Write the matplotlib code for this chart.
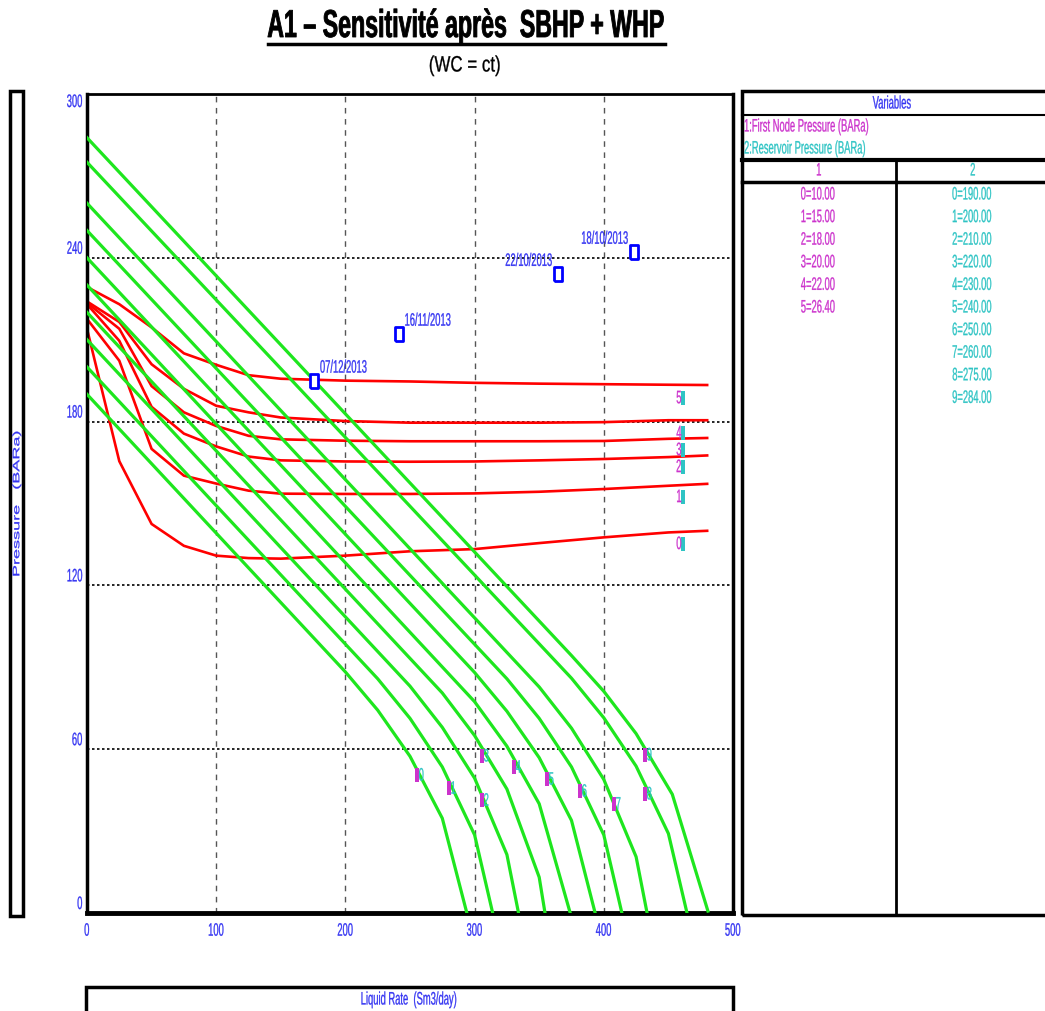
import matplotlib
matplotlib.use("Agg")
import matplotlib.pyplot as plt
from matplotlib.patches import Rectangle
from matplotlib.lines import Line2D
from matplotlib.patheffects import AbstractPathEffect
from matplotlib.transforms import Affine2D

# --- data ------------------------------------------------------------------

# sensitivity variables
FNP_VALUES = ["0=10.00", "1=15.00", "2=18.00", "3=20.00", "4=22.00", "5=26.40"]
PRES_VALUES = ["0=190.00", "1=200.00", "2=210.00", "3=220.00", "4=230.00",
               "5=240.00", "6=250.00", "7=260.00", "8=275.00", "9=284.00"]

# VLP curves (first node pressure), pressure at each liquid rate
VLP_Q = [0, 25, 50, 75, 100, 125, 150, 200, 250, 300, 350, 400, 450, 480]
vlp_p0 = [214.0, 165.5, 142.5, 134.5, 130.9, 130.0, 129.8, 130.9, 132.5, 133.3, 135.5, 137.6, 139.4, 140.0]
vlp_p1 = [217.6, 202.3, 170.0, 160.2, 157.3, 154.7, 153.6, 153.5, 153.5, 153.7, 154.3, 155.3, 156.5, 157.2]
vlp_p2 = [223.0, 209.6, 185.4, 175.6, 170.9, 167.2, 165.8, 165.4, 165.3, 165.4, 165.8, 166.3, 167.0, 167.6]
vlp_p3 = [223.5, 214.0, 193.0, 183.4, 178.4, 174.8, 173.5, 173.0, 172.8, 172.8, 172.8, 172.9, 173.7, 174.0]
vlp_p4 = [224.0, 216.5, 201.0, 192.0, 185.8, 183.4, 181.5, 180.2, 179.6, 179.6, 179.6, 179.8, 180.5, 180.5]
vlp_p5 = [229.3, 223.0, 214.5, 205.0, 200.8, 197.0, 195.7, 195.0, 194.7, 194.2, 193.9, 193.7, 193.5, 193.4]
VLP_P = [vlp_p0, vlp_p1, vlp_p2, vlp_p3, vlp_p4, vlp_p5]

# IPR curves (reservoir pressure)
ipr_q0 = [0, 200, 225, 250, 275, 294]
ipr_p0 = [190, 88.3, 74.3, 57.4, 34.7, 0]
ipr_q1 = [0, 225, 250, 275, 300, 314]
ipr_p1 = [200, 85.8, 71.3, 53.5, 28.6, 0]
ipr_q2 = [0, 250, 275, 300, 325, 334]
ipr_p2 = [210, 83.1, 68.0, 49.4, 21.4, 0]
ipr_q3 = [0, 275, 300, 325, 350, 354.5]
ipr_p3 = [220, 80.6, 65.0, 45.4, 13.1, 0]
ipr_q4 = [0, 300, 325, 350, 374]
ipr_p4 = [230, 77.4, 61.1, 40.0, 0]
ipr_q5 = [0, 300, 325, 350, 375, 393.3]
ipr_p5 = [240, 88.1, 73.9, 56.9, 33.9, 0]
ipr_q6 = [0, 325, 350, 375, 400, 414]
ipr_p6 = [250, 85.8, 71.3, 53.5, 28.6, 0]
ipr_q7 = [0, 350, 375, 400, 425, 433.5]
ipr_p7 = [260, 82.8, 67.7, 48.9, 20.6, 0]
ipr_q8 = [0, 375, 400, 425, 450, 464.4]
ipr_p8 = [275, 86.0, 71.5, 53.8, 29.1, 0]
ipr_q9 = [0, 375, 400, 425, 453, 480.6]
ipr_p9 = [284, 94.3, 81.2, 65.7, 43.5, 0.7]
IPR_Q = [ipr_q0, ipr_q1, ipr_q2, ipr_q3, ipr_q4, ipr_q5, ipr_q6, ipr_q7, ipr_q8, ipr_q9]
IPR_P = [ipr_p0, ipr_p1, ipr_p2, ipr_p3, ipr_p4, ipr_p5, ipr_p6, ipr_p7, ipr_p8, ipr_p9]

# curve tags
IPR_TAG_Q = [255.4, 280.2, 305.7, 305.7, 330.5, 356.0, 381.6, 407.9, 431.9, 431.9]
IPR_TAG_P = [50.5, 45.7, 41.3, 57.5, 53.4, 49.0, 44.6, 39.9, 43.6, 57.9]
VLP_TAG_Q = 461.6
VLP_TAG_P = [135.3, 152.5, 163.5, 169.7, 175.9, 188.7]

# well tests
TEST_DATES = ["07/12/2013", "16/11/2013", "22/10/2013", "18/10/2013"]
TEST_Q = [176.0, 241.5, 364.6, 423.4]
TEST_P = [195.0, 212.2, 234.1, 242.2]

X_TICKS = [0, 100, 200, 300, 400, 500]
Y_TICKS = [0, 60, 120, 180, 240, 300]

# --- styling ---------------------------------------------------------------

W, H = 1045, 1012
BLUE = "#3434F2"
MAGENTA = "#CC33CC"
CYAN = "#2EC4C4"
RED = "#FF0000"
GREEN = "#1EE61E"
FS = 13        # small text size
SX = 0.52      # horizontal squeeze of the narrow lettering
STROKE = 0.2   # outline that gives the lettering a little weight

plt.rcParams["font.family"] = ["Liberation Sans", "DejaVu Sans"]


class Squeeze(AbstractPathEffect):
    """Draw text glyphs scaled along the text's own x / y direction."""

    def __init__(self, sx=1.0, sy=1.0, align="center", stroke=STROKE):
        super().__init__()
        self.sx, self.sy, self.align, self.stroke = sx, sy, align, stroke

    def draw_path(self, renderer, gc, tpath, affine, rgbFace=None):
        v = tpath.vertices
        if len(v) == 0:
            return
        if self.align == "left":
            cx = 0.0
        elif self.align == "right":
            cx = v[:, 0].max()
        else:
            cx = (v[:, 0].min() + v[:, 0].max()) / 2
        cy = (v[:, 1].min() + v[:, 1].max()) / 2
        t = Affine2D().translate(-cx, -cy).scale(self.sx, self.sy).translate(cx, cy) + affine
        gc0 = renderer.new_gc()
        gc0.copy_properties(gc)
        if self.stroke and rgbFace is not None:
            gc0.set_linewidth(self.stroke)
            gc0.set_foreground(rgbFace)
        renderer.draw_path(gc0, tpath, t, rgbFace)
        gc0.restore()


def narrow(align="center", grow=1.0):
    return [Squeeze(SX * grow, grow, align)]


fig = plt.figure(figsize=(W / 100, H / 100), dpi=100)


def fx(x):
    return x / W


def fy(y):
    return 1 - y / H


def box(x0, y0, x1, y1, lw=2.5):
    fig.add_artist(Rectangle((fx(x0), fy(y1)), (x1 - x0) / W, (y1 - y0) / H,
                             transform=fig.transFigure, fill=False,
                             lw=lw, ec="black"))


def hline(x0, x1, y, lw=1.5):
    fig.add_artist(Line2D([fx(x0), fx(x1)], [fy(y), fy(y)],
                          transform=fig.transFigure, color="black", lw=lw))


def vline(x, y0, y1, lw=1.5):
    fig.add_artist(Line2D([fx(x), fx(x)], [fy(y0), fy(y1)],
                          transform=fig.transFigure, color="black", lw=lw))


def ftext(x, y, s, color, ha="center"):
    return fig.text(fx(x), fy(y), s, ha=ha, va="center", color=color,
                    fontsize=FS, path_effects=narrow(ha))


# --- main plot -------------------------------------------------------------

ax = fig.add_axes([fx(87), fy(914), (733 - 87) / W, (914 - 95) / H])
ax.set_xlim(0, 500)
ax.set_ylim(0, 300)

for x in X_TICKS[1:-1]:
    ax.axvline(x, color="#555555", lw=1.0, dashes=(4, 4), zorder=1)
for y in Y_TICKS[1:-1]:
    ax.axhline(y, color="black", lw=1.2, dashes=(1.5, 1.5), zorder=1)

for q, p in zip(IPR_Q, IPR_P):
    ax.plot(q, p, color=GREEN, lw=2.3, zorder=3)
for p in VLP_P:
    ax.plot(VLP_Q, p, color=RED, lw=1.9, zorder=2)

bar = [(-0.22, -1), (0.22, -1), (0.22, 1), (-0.22, 1), (-0.22, -1)]
TAG_FS = 10
TAG_GROW = FS / TAG_FS   # tags drawn at small size, glyphs scaled back up

# IPR tags: magenta bar then cyan index
for i, (q, p) in enumerate(zip(IPR_TAG_Q, IPR_TAG_P)):
    ax.plot(q, p, marker=bar, ms=10, color=MAGENTA, mew=0, zorder=5)
    ax.annotate(str(i), (q, p), xytext=(1.2, 0), textcoords="offset points",
                ha="left", va="center", color=CYAN, fontsize=TAG_FS, zorder=5,
                path_effects=narrow("left", TAG_GROW))

# VLP tags: magenta index then cyan bar
for i, p in enumerate(VLP_TAG_P):
    ax.plot(VLP_TAG_Q, p, marker=bar, ms=10, color=CYAN, mew=0, zorder=5)
    ax.annotate(str(i), (VLP_TAG_Q, p), xytext=(-1.2, 0), textcoords="offset points",
                ha="right", va="center", color=MAGENTA, fontsize=TAG_FS, zorder=5,
                path_effects=narrow("right", TAG_GROW))

# test points
square = [(-0.68, -1), (0.68, -1), (0.68, 1), (-0.68, 1), (-0.68, -1)]
ax.plot(TEST_Q, TEST_P, ls="none", marker=square, ms=9.5, mfc="white",
        mec="#0000FF", mew=2, zorder=6)
for i, (d, q, p) in enumerate(zip(TEST_DATES, TEST_Q, TEST_P)):
    ha = "left" if i < 2 else "right"
    ax.annotate(d, (q, p), xytext=(4 if i < 2 else -4, 9), textcoords="offset points",
                ha=ha, va="center", color=BLUE, fontsize=FS, zorder=6,
                path_effects=narrow(ha))

ax.set_xticks(X_TICKS)
ax.set_yticks(Y_TICKS)
ax.tick_params(length=0, colors=BLUE, labelsize=FS)
ax.tick_params(axis="x", pad=7)
ax.tick_params(axis="y", pad=3)
for lbl in ax.get_xticklabels():
    lbl.set_path_effects(narrow("center"))
ylabels = ax.get_yticklabels()
for lbl in ylabels:
    lbl.set_path_effects(narrow("right"))
    lbl.set_va("bottom")
ylabels[-1].set_va("top")

ax.spines["left"].set_linewidth(2.5)
ax.spines["bottom"].set_linewidth(3.5)
ax.spines["top"].set_linewidth(2)
ax.spines["right"].set_linewidth(2.5)

# --- titles and axis label boxes ------------------------------------------

title = fig.text(fx(466), fy(28), "A1 \u2013 Sensitivit\u00e9 apr\u00e8s  SBHP + WHP",
                 ha="center", va="center", fontsize=28, fontweight="bold")
subtitle = fig.text(fx(465), fy(67), "(WC = ct)", ha="center", va="center", fontsize=16)
hline(268, 665, 45, lw=2.5)

box(10, 92, 23, 917)
fig.text(fx(17), fy(505), "Pressure   (BARa)", rotation=90, ha="center", va="center",
         color=BLUE, fontsize=FS, path_effects=[Squeeze(1.0, SX, "center")])

box(86, 988, 733, 1020)
ftext(409, 1001, "Liquid Rate  (Sm3/day)", BLUE)

# --- variables panel -------------------------------------------------------

box(742, 92, 1060, 916)
hline(742, 1045, 115.7, lw=1.5)
hline(742, 1045, 161, lw=3)
hline(742, 1045, 182.7, lw=2.5)
vline(896, 161, 916, lw=2)

ftext(892, 105, "Variables", BLUE)
ftext(744, 128, "1:First Node Pressure (BARa)", MAGENTA, ha="left")
ftext(744, 150, "2:Reservoir Pressure (BARa)", CYAN, ha="left")
ftext(819, 172, "1", MAGENTA)
ftext(973, 172, "2", CYAN)

for i, s in enumerate(FNP_VALUES):
    ftext(818, 196 + 22.6 * i, s, MAGENTA)
for i, s in enumerate(PRES_VALUES):
    ftext(972, 196 + 22.6 * i, s, CYAN)

# fit the headings to their printed widths
fig.canvas.draw()
for t, width, stroke in ((title, 397, 0.6), (subtitle, 72, 0.2)):
    w = t.get_window_extent().width
    t.set_path_effects([Squeeze(width / w, 1.0, "center", stroke=stroke)])

fig.savefig("out.png", dpi=100)
